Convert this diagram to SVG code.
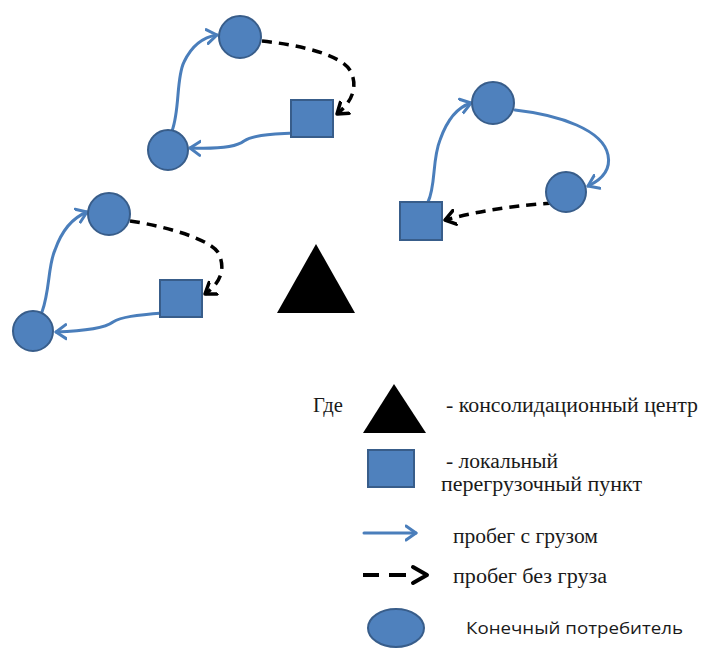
<svg xmlns="http://www.w3.org/2000/svg" width="705" height="648" viewBox="0 0 705 648">
<defs>
<style>
.node{fill:#4F81BD;stroke:#385D8A;stroke-width:2}
.tri{fill:#000}
.load{fill:none;stroke:#4A7EBB;stroke-width:3;stroke-linecap:round}
.empty{fill:none;stroke:#000;stroke-width:3.5;stroke-dasharray:10 7}
.serif{font-family:"Liberation Serif","Times New Roman",serif;font-size:20px;fill:#1a1a1a}
.sans{font-family:"Open Sans","Liberation Sans",sans-serif;font-size:16px;fill:#1a1a1a}
</style>
<marker id="ab" markerUnits="userSpaceOnUse" markerWidth="16" markerHeight="18" refX="11" refY="8" orient="auto" viewBox="0 0 16 16">
<path d="M1,1 L11,8 L1,15" fill="none" stroke="#4A7EBB" stroke-width="3" stroke-linecap="round" stroke-linejoin="round"/>
</marker>
<marker id="ak" markerUnits="userSpaceOnUse" markerWidth="16" markerHeight="18" refX="11" refY="8" orient="auto" viewBox="0 0 16 16">
<path d="M1,1 L11,8 L1,15" fill="none" stroke="#000" stroke-width="3.5" stroke-linecap="round" stroke-linejoin="round"/>
</marker>
</defs>
<rect width="705" height="648" fill="#fff"/>

<g id="connectors">
<path class="load" d="M172,131 C180,110 176,78 184,62 C192,45 204,37 217,35" marker-end="url(#ab)"/>
<path class="load" d="M295,133 C265,134 252,136 244,141 C235,148 215,149 190,148" marker-end="url(#ab)"/>
<path class="empty" d="M262,41 C300,45 343,55 351,72 C358,87 352,102 337,114" marker-end="url(#ak)"/>

<path class="load" d="M428,202 C436,185 432,160 440,140 C447,120 458,107 471,103" marker-end="url(#ab)"/>
<path class="load" d="M515,110 C560,115 603,130 608,155 C611,170 601,180 588,186" marker-end="url(#ab)"/>
<path class="empty" d="M553,203 C520,205 482,210 445,220" marker-end="url(#ak)"/>

<path class="load" d="M42,312 C50,290 48,265 55,250 C62,230 72,218 87,212" marker-end="url(#ab)"/>
<path class="load" d="M163,313 C136,315 121,317 113,322 C105,328 85,331 56,332" marker-end="url(#ab)"/>
<path class="empty" d="M130,221 C165,226 213,240 219,254 C225,268 222,282 205,294" marker-end="url(#ak)"/>
</g>

<g id="n1a"><circle class="node" cx="240" cy="37" r="21"/></g>
<g id="n1b"><circle class="node" cx="168" cy="150" r="20"/></g>
<g id="n1s"><rect class="node" x="291" y="100" width="42" height="37"/></g>

<g id="n2a"><circle class="node" cx="493" cy="103" r="21"/></g>
<g id="n2b"><circle class="node" cx="566" cy="192" r="20"/></g>
<g id="n2s"><rect class="node" x="400" y="202" width="42" height="38"/></g>

<g id="n3a"><circle class="node" cx="109" cy="214" r="21"/></g>
<g id="n3b"><circle class="node" cx="33" cy="331" r="20"/></g>
<g id="n3s"><rect class="node" x="160" y="280" width="42" height="37"/></g>

<g id="center"><polygon class="tri" points="277,313 316,244 355,313"/></g>

<g id="legend">
<text class="serif" x="313" y="412" textLength="30" lengthAdjust="spacingAndGlyphs">Где</text>
<polygon class="tri" points="363,433 394,384 426,433"/>
<text class="serif" x="446" y="412" textLength="252" lengthAdjust="spacingAndGlyphs">- консолидационный центр</text>
<rect class="node" x="368" y="450" width="46" height="37"/>
<text class="serif" x="446" y="468" textLength="112" lengthAdjust="spacingAndGlyphs">- локальный</text>
<text class="serif" x="441" y="491" textLength="201" lengthAdjust="spacingAndGlyphs">перегрузочный пункт</text>
<path class="load" d="M364,533 L416,533" marker-end="url(#ab)"/>
<text class="serif" x="453" y="543" textLength="145" lengthAdjust="spacingAndGlyphs">пробег с грузом</text>
<path d="M363,575 L379,575 M389,575 L406,575" stroke="#000" stroke-width="4" fill="none"/>
<path d="M413,567 L427,575 L413,583" stroke="#000" stroke-width="4" fill="none" stroke-linejoin="round" stroke-linecap="round"/>
<text class="serif" x="453" y="583" textLength="154" lengthAdjust="spacingAndGlyphs">пробег без груза</text>
<ellipse class="node" cx="396" cy="628" rx="28" ry="19"/>
<text class="sans" x="466" y="634" textLength="217" lengthAdjust="spacingAndGlyphs">Конечный потребитель</text>
</g>
</svg>
